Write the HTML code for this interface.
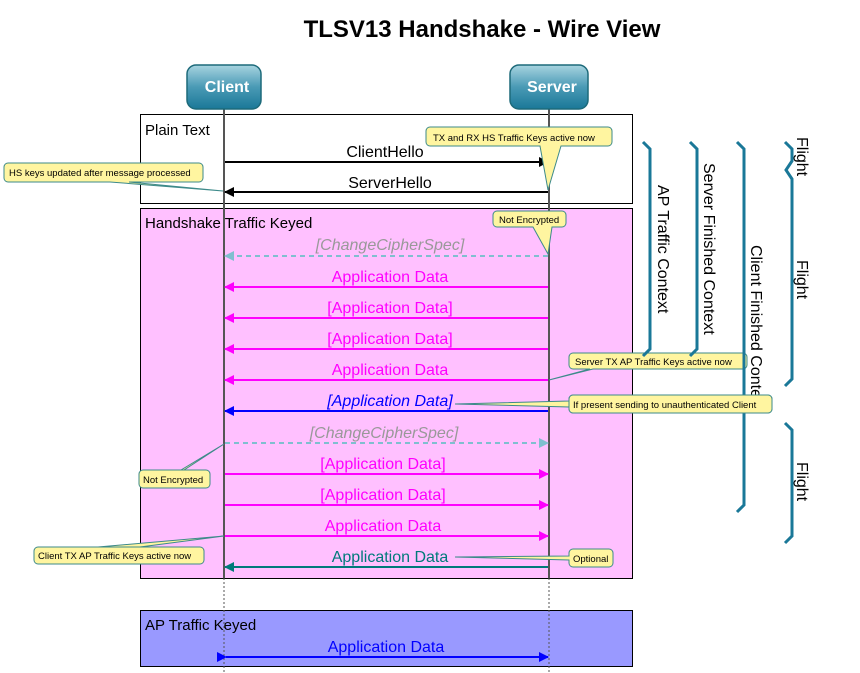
<!DOCTYPE html>
<html><head><style>body{margin:0;background:#fff}svg{display:block}</style></head><body>
<svg width="860" height="673" viewBox="0 0 860 673" xmlns="http://www.w3.org/2000/svg" font-family="Liberation Sans, sans-serif">
<defs>
<linearGradient id="g" x1="0" y1="0" x2="0" y2="1"><stop offset="0" stop-color="#a8d4e0"/><stop offset="0.5" stop-color="#4a9ab5"/><stop offset="1" stop-color="#1a7898"/></linearGradient>
<marker id="ak" markerWidth="10" markerHeight="10" refX="9" refY="5" orient="auto" markerUnits="userSpaceOnUse"><path d="M0,0 L10,5 L0,10 z" fill="#000"/></marker>
<marker id="am" markerWidth="10" markerHeight="10" refX="9" refY="5" orient="auto" markerUnits="userSpaceOnUse"><path d="M0,0 L10,5 L0,10 z" fill="#ff00ff"/></marker>
<marker id="ab" markerWidth="10" markerHeight="10" refX="9" refY="5" orient="auto" markerUnits="userSpaceOnUse"><path d="M0,0 L10,5 L0,10 z" fill="#0000ff"/></marker>
<marker id="ac" markerWidth="10" markerHeight="10" refX="9" refY="5" orient="auto" markerUnits="userSpaceOnUse"><path d="M0,0 L10,5 L0,10 z" fill="#7fbfcf"/></marker>
<marker id="at" markerWidth="10" markerHeight="10" refX="9" refY="5" orient="auto" markerUnits="userSpaceOnUse"><path d="M0,0 L10,5 L0,10 z" fill="#007a7a"/></marker>
</defs>
<text x="482" y="37" text-anchor="middle" font-size="24" font-weight="bold">TLSV13 Handshake - Wire View</text>
<rect x="140.5" y="114.5" width="492" height="89" fill="#fff" stroke="#000"/>
<rect x="140.5" y="208.5" width="492" height="370" fill="#ffc0ff" stroke="#000"/>
<rect x="140.5" y="610.5" width="492" height="56" fill="#9999ff" stroke="#000"/>
<text x="145" y="135" font-size="15">Plain Text</text>
<text x="145" y="228" font-size="15">Handshake Traffic Keyed</text>
<text x="145" y="630" font-size="15">AP Traffic Keyed</text>
<line x1="224" y1="108" x2="224" y2="578" stroke="#555" stroke-width="2"/>
<line x1="549" y1="108" x2="549" y2="578" stroke="#555" stroke-width="2"/>
<line x1="224" y1="578" x2="224" y2="673" stroke="#555" stroke-dasharray="2,2"/>
<line x1="549" y1="578" x2="549" y2="673" stroke="#555" stroke-dasharray="2,2"/>
<rect x="187" y="65" width="74" height="44" rx="9" fill="url(#g)" stroke="#1d6a7a" stroke-width="1.5"/>
<text x="227" y="92" text-anchor="middle" font-size="16" font-weight="bold" fill="#fff">Client</text>
<rect x="510" y="65" width="78" height="44" rx="9" fill="url(#g)" stroke="#1d6a7a" stroke-width="1.5"/>
<text x="552" y="92" text-anchor="middle" font-size="16" font-weight="bold" fill="#fff">Server</text>
<g font-size="16" text-anchor="middle">
<line x1="225" y1="162" x2="548" y2="162" stroke="#000" stroke-width="2" marker-end="url(#ak)"/><text x="385" y="157">ClientHello</text>
<line x1="548" y1="192" x2="225" y2="192" stroke="#000" stroke-width="2" marker-end="url(#ak)"/><text x="390" y="188">ServerHello</text>
<line x1="548" y1="256" x2="225" y2="256" stroke="#7fbfcf" stroke-width="2" stroke-dasharray="5,4" marker-end="url(#ac)"/><text x="390" y="250" fill="#999" font-style="italic">[ChangeCipherSpec]</text>
<line x1="548" y1="287" x2="225" y2="287" stroke="#f0f" stroke-width="2" marker-end="url(#am)"/><text x="390" y="282" fill="#f0f">Application Data</text>
<line x1="548" y1="318" x2="225" y2="318" stroke="#f0f" stroke-width="2" marker-end="url(#am)"/><text x="390" y="313" fill="#f0f">[Application Data]</text>
<line x1="548" y1="349" x2="225" y2="349" stroke="#f0f" stroke-width="2" marker-end="url(#am)"/><text x="390" y="344" fill="#f0f">[Application Data]</text>
<line x1="548" y1="380" x2="225" y2="380" stroke="#f0f" stroke-width="2" marker-end="url(#am)"/><text x="390" y="375" fill="#f0f">Application Data</text>
<line x1="548" y1="411" x2="225" y2="411" stroke="#00f" stroke-width="2" marker-end="url(#ab)"/><text x="390" y="406" fill="#00f" font-style="italic">[Application Data]</text>
<line x1="225" y1="443" x2="548" y2="443" stroke="#7fbfcf" stroke-width="2" stroke-dasharray="5,4" marker-end="url(#ac)"/><text x="384" y="438" fill="#999" font-style="italic">[ChangeCipherSpec]</text>
<line x1="225" y1="474" x2="548" y2="474" stroke="#f0f" stroke-width="2" marker-end="url(#am)"/><text x="383" y="469" fill="#f0f">[Application Data]</text>
<line x1="225" y1="505" x2="548" y2="505" stroke="#f0f" stroke-width="2" marker-end="url(#am)"/><text x="383" y="500" fill="#f0f">[Application Data]</text>
<line x1="225" y1="536" x2="548" y2="536" stroke="#f0f" stroke-width="2" marker-end="url(#am)"/><text x="383" y="531" fill="#f0f">Application Data</text>
<line x1="548" y1="567" x2="225" y2="567" stroke="#007a7a" stroke-width="2" marker-end="url(#at)"/><text x="390" y="562" fill="#007a7a">Application Data</text>
<line x1="226" y1="657" x2="548" y2="657" stroke="#00f" stroke-width="2" marker-end="url(#ab)" marker-start="url(#ab)"/><text x="386" y="652" fill="#00f">Application Data</text>
</g>
<marker id="x"/>
<g fill="#fff5a0" stroke="#3d8a8a" font-size="9.5">
<path d="M430,127 h178 a4,4 0 0 1 4,4 v11 a4,4 0 0 1 -4,4 h-47 L548,190 L540,146 h-110 a4,4 0 0 1 -4,-4 v-11 a4,4 0 0 1 4,-4z"/>
<path d="M8,163 h191 a4,4 0 0 1 4,4 v11 a4,4 0 0 1 -4,4 h-70 L223,191 L110,182 h-102 a4,4 0 0 1 -4,-4 v-11 a4,4 0 0 1 4,-4z"/>
<path d="M497,211 h65 a4,4 0 0 1 4,4 v8 a4,4 0 0 1 -4,4 h-10 L548,254 L533,227 h-36 a4,4 0 0 1 -4,-4 v-8 a4,4 0 0 1 4,-4z"/>
<path d="M573,353 h170 a4,4 0 0 1 4,4 v8 a4,4 0 0 1 -4,4 h-150 L549,380 L590,369 h-17 a4,4 0 0 1 -4,-4 v-8 a4,4 0 0 1 4,-4z"/>
<path d="M573,395 h195 a4,4 0 0 1 4,4 v10 a4,4 0 0 1 -4,4 h-195 a4,4 0 0 1 -4,-4 v-2 L455,404 L569,401 v-2 a4,4 0 0 1 4,-4z"/>
<path d="M143,470 h63 a4,4 0 0 1 4,4 v10 a4,4 0 0 1 -4,4 h-63 a4,4 0 0 1 -4,-4 v-10 a4,4 0 0 1 4,-4 h38 L224,444 L184,470z"/>
<path d="M38,547 h162 a4,4 0 0 1 4,4 v9 a4,4 0 0 1 -4,4 h-162 a4,4 0 0 1 -4,-4 v-9 a4,4 0 0 1 4,-4 h60 L224,536 L140,547z"/>
<path d="M573,549 h36 a4,4 0 0 1 4,4 v10 a4,4 0 0 1 -4,4 h-36 a4,4 0 0 1 -4,-4 v-3 L455,557 L569,556 v-3 a4,4 0 0 1 4,-4z"/>
</g>
<g font-size="9.5" fill="#000" stroke="none">
<text x="433" y="141">TX and RX HS Traffic Keys active now</text>
<text x="9" y="176">HS keys updated after message processed</text>
<text x="499" y="223">Not Encrypted</text>
<text x="575" y="365">Server TX AP Traffic Keys active now</text>
<text x="573" y="408">If present sending to unauthenticated Client</text>
<text x="143" y="483">Not Encrypted</text>
<text x="38" y="559">Client TX AP Traffic Keys active now</text>
<text x="573" y="562">Optional</text>
</g>
<g fill="none" stroke="#1a7898" stroke-width="3">
<path d="M643,142 l7,7 v200 l-7,7"/>
<path d="M690,142 l7,7 v200 l-7,7"/>
<path d="M737,142 l7,7 v356 l-7,7"/>
<path d="M785,142 l7,7 v12 l-6,9 l6,9 v200 l-7,7"/>
<path d="M785,423 l7,7 v106 l-7,7"/>
</g>
<g font-size="16" fill="#000">
<text transform="translate(658,185) rotate(90)">AP Traffic Context</text>
<text transform="translate(704,163) rotate(90)">Server Finished Context</text>
<text transform="translate(751,245) rotate(90)">Client Finished Conte</text>
<text transform="translate(797,137) rotate(90)">Flight</text>
<text transform="translate(797,260) rotate(90)">Flight</text>
<text transform="translate(797,462) rotate(90)">Flight</text>
</g>
<rect x="569" y="395" width="203" height="18" rx="4" fill="#fff5a0" stroke="#3d8a8a"/>
<text x="573" y="408" font-size="9.5">If present sending to unauthenticated Client</text>
</svg>
</body></html>
